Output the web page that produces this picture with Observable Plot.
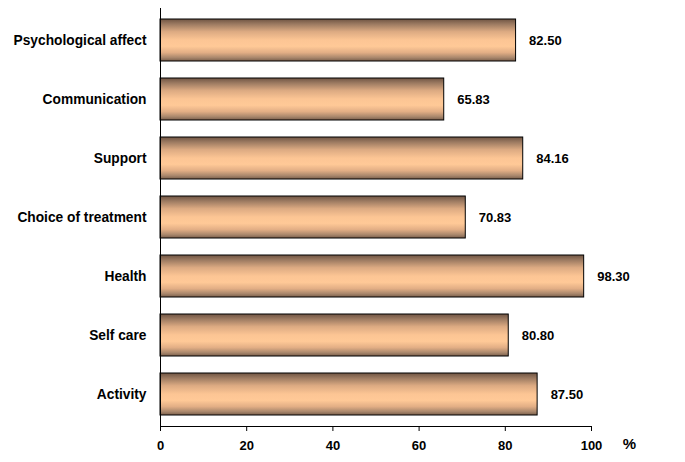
<!DOCTYPE html>
<html>
<head>
<meta charset="utf-8">
<script src="https://cdn.jsdelivr.net/npm/d3@7"></script>
<script src="https://cdn.jsdelivr.net/npm/@observablehq/plot@0.6"></script>
<style>
  html, body { margin: 0; padding: 0; background: #fff; }
  #chart svg { font-family: "Liberation Sans", Arial, sans-serif; }
</style>
</head>
<body>
<div id="chart"></div>
<script>
const categories = ["Psychological affect", "Communication", "Support", "Choice of treatment", "Health", "Self care", "Activity"];
const values = [82.50, 65.83, 84.16, 70.83, 98.30, 80.80, 87.50];
const xTicks = [0, 20, 40, 60, 80, 100];
const unitLabel = "%";

const data = categories.map((c, i) => ({category: c, value: values[i]}));

const W = 685, H = 462, mB = 36;

const plot = Plot.plot({
  width: W,
  height: H,
  marginLeft: 160,
  marginRight: 94,
  marginTop: 8,
  marginBottom: mB,
  style: {fontFamily: "Liberation Sans, Arial, sans-serif", fontSize: "12px", fontWeight: "bold", color: "#000", background: "#fff"},
  x: {domain: [0, 100], ticks: xTicks, label: null},
  y: {domain: categories, paddingInner: 0.28, paddingOuter: 0.158, label: null},
  marks: [
    Plot.axisY({tickSize: 0, tickPadding: 14, fontSize: 13.75, fontWeight: "bold", label: null}),
    Plot.axisX({ticks: xTicks, tickSize: 5, tickPadding: 9, fontSize: 13, fontWeight: "bold", label: null}),
    Plot.barX(data, {x: "value", y: "category", fill: "url(#barGrad)", stroke: "#000", strokeWidth: 1}),
    Plot.text(data, {x: "value", y: "category", text: d => d3.format(".2f")(d.value), textAnchor: "start", dx: 13, fontSize: 13, fontWeight: "bold", fill: "#000"}),
    Plot.ruleX([0], {stroke: "#000", strokeWidth: 1}),
    Plot.text([unitLabel], {frameAnchor: "bottom-right", dx: 38, dy: 22, textAnchor: "middle", fontSize: 15, fontWeight: "bold", fill: "#000"})
  ]
});

const svg = d3.select(plot);
const defs = svg.insert("defs", ":first-child");
const g = defs.append("linearGradient").attr("id", "barGrad")
  .attr("x1", 0).attr("y1", 0).attr("x2", 0).attr("y2", 1);
[
  [0, "#6f5443"],
  [0.12, "#9c7a61"],
  [0.3, "#dcaa82"],
  [0.5, "#fcc594"],
  [0.65, "#ffc997"],
  [0.8, "#e2ae85"],
  [0.92, "#a9876c"],
  [1, "#7a5f4c"]
].forEach(([o, c]) => g.append("stop").attr("offset", o).attr("stop-color", c));

// x axis baseline, placed through Plot's own x scale
const xs = plot.scale("x");
const [d0, d1] = xs.domain;
svg.append("line")
  .attr("x1", xs.apply(d0)).attr("x2", xs.apply(d1))
  .attr("y1", H - mB + 0.5).attr("y2", H - mB + 0.5)
  .attr("stroke", "#000").attr("stroke-width", 1);

document.getElementById("chart").appendChild(plot);
</script>
</body>
</html>
